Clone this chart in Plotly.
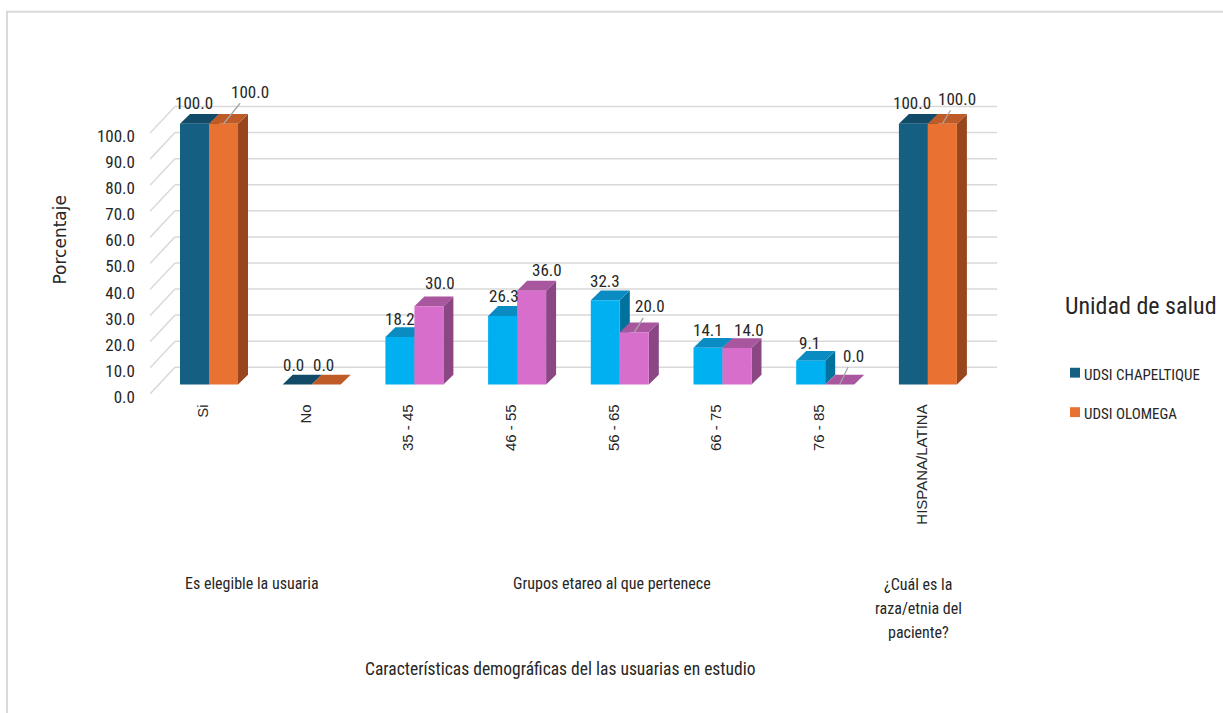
import plotly.graph_objects as go

# ---- data -------------------------------------------------------------
categories = ["Si", "No", "35 - 45", "46 - 55", "56 - 65", "66 - 75", "76 - 85", "HISPANA/LATINA"]
category_group = [0, 0, 1, 1, 1, 1, 1, 2]
group_names = ["Es elegible la usuaria", "Grupos etareo al que pertenece",
               "¿Cuál es la<br>raza/etnia del<br>paciente?"]
series_names = ["UDSI CHAPELTIQUE", "UDSI OLOMEGA"]
chapeltique = [100.0, 0.0, 18.2, 26.3, 32.3, 14.1, 9.1, 100.0]
olomega = [100.0, 0.0, 30.0, 36.0, 20.0, 14.0, 0.0, 100.0]
y_ticks = [0, 10, 20, 30, 40, 50, 60, 70, 80, 90, 100]

# ---- styling ----------------------------------------------------------
W, H = 1223, 713
NARROW = "Liberation Sans Narrow, Arial Narrow, Roboto Condensed, sans-serif"
WIDE = "DejaVu Sans, Verdana, sans-serif"
ARIAL = "Liberation Sans, Arial, sans-serif"
TXT = "#262626"
GRID = "#D9D9D9"

# colours per group: (front, top, side) for each series
palette = {
    0: [("#156082", "#114B67", "#0E3F57"), ("#E97132", "#BF5B27", "#97461D")],
    1: [("#00B0F0", "#0A8CC2", "#00729D"), ("#D86ECC", "#A8569E", "#8A4783")],
}
palette[2] = palette[0]

# pseudo-3D projection (pixels -> data units)
X0_PX, Y0_PX = 199.0, 399.5      # pixel position of (0, 0) on the front plane
SX, SY = 102.7, 2.645            # pixels per x unit / per y unit
BAR_W = 29 / SX                  # bar width
BX, BY = 10 / SX, 9.5 / SY       # offset of the bar front plane
DX, DY = 10 / SX, 10 / SY        # bar depth
WX, WY = 25 / SX, 27 / SY        # back-wall offset
WALL_END = (997 - X0_PX) / SX

L, R, T, B = 150, 1010, 60, 402  # plot area in pixels
x_range = [(L - X0_PX) / SX, (R - X0_PX) / SX]
y_range = [(Y0_PX - B) / SY, (Y0_PX - T) / SY]

# value-label offsets in pixels (dx, dy) and leader-line flags
label_off = [
    [(-1, 21), (-4, 20), (0, 18), (1, 20), (0, 19), (0, 18), (-1, 18), (-1, 21)],
    [(26, 32), (-3, 20), (11, 23), (15, 21), (16, 26), (12, 18), (14, 29), (15, 25)],
]
label_leader = [
    [False] * 8,
    [True, False, False, False, True, False, True, True],
]


def px_x(p):
    return p / W


def px_y(p):
    return 1 - p / H


fig = go.Figure()
shapes = []
annotations = []

# back wall gridlines and left-wall diagonals
x_front_left = (L - X0_PX) / SX
for v in y_ticks:
    shapes.append(dict(type="line", xref="x", yref="y", layer="below",
                       x0=x_front_left, y0=v, x1=x_front_left + WX, y1=v + WY,
                       line=dict(color=GRID, width=1.5)))
    shapes.append(dict(type="line", xref="x", yref="y", layer="below",
                       x0=x_front_left + WX, y0=v + WY, x1=WALL_END, y1=v + WY,
                       line=dict(color=GRID, width=1.5)))

series_values = [chapeltique, olomega]
for s, values in enumerate(series_values):
    fronts = [palette[g][s][0] for g in category_group]
    xs = [i + BX for i in range(len(categories))]
    offset = -BAR_W if s == 0 else 0.0
    fig.add_trace(go.Bar(
        x=xs, y=values, base=BY, width=BAR_W, offset=offset,
        marker=dict(color=fronts, line=dict(width=0)),
        name=series_names[s], showlegend=False,
        customdata=categories,
        hovertemplate="%{customdata}<br>" + series_names[s] + ": %{y:.1f}<extra></extra>",
    ))
    # top and side faces of each bar
    for i, v in enumerate(values):
        g = category_group[i]
        _, top_c, side_c = palette[g][s]
        x0 = xs[i] + offset
        x1 = x0 + BAR_W
        t = BY + v
        shapes.append(dict(
            type="path", xref="x", yref="y", layer="below",
            path=f"M {x1},{BY} L {x1},{t} L {x1 + DX},{t + DY} L {x1 + DX},{BY + DY} Z",
            fillcolor=side_c, line=dict(width=0)))
        shapes.append(dict(
            type="path", xref="x", yref="y", layer="below",
            path=f"M {x0},{t} L {x1},{t} L {x1 + DX},{t + DY} L {x0 + DX},{t + DY} Z",
            fillcolor=top_c, line=dict(width=0)))
        # value label
        cx = (x0 + x1) / 2
        dxp, dyp = label_off[s][i]
        common = dict(x=cx, y=t, xref="x", yref="y", text=f"{v:.1f}",
                      font=dict(family=NARROW, size=17, color=TXT))
        if label_leader[s][i]:
            annotations.append(dict(**common, showarrow=True, ax=dxp, ay=-dyp,
                                    arrowhead=0, arrowwidth=1.3, arrowcolor="#A6A6A6",
                                    standoff=0, startstandoff=0))
        else:
            annotations.append(dict(**common, showarrow=False, xshift=dxp, yshift=dyp))

# group labels below the category axis
group_centers = [(252, 592), (612, 592), (918, 593)]
for name, (gx, gy) in zip(group_names, group_centers):
    lines = name.split("<br>")
    for k, line in enumerate(lines):
        annotations.append(dict(x=px_x(gx), y=px_y(gy + 24 * k), xref="paper", yref="paper",
                                text=line, showarrow=False, xanchor="center", yanchor="middle",
                                font=dict(family=NARROW, size=16, color=TXT)))

# axis titles
annotations.append(dict(x=px_x(560), y=px_y(679), xref="paper", yref="paper",
                        text="Características demográficas del las usuarias en estudio",
                        showarrow=False, xanchor="center", yanchor="middle",
                        font=dict(family=NARROW, size=17.5, color=TXT)))
annotations.append(dict(x=px_x(60), y=px_y(243), xref="paper", yref="paper",
                        text="Porcentaje", textangle=-90,
                        showarrow=False, xanchor="center", yanchor="middle",
                        font=dict(family=WIDE, size=17, color=TXT)))

# legend
annotations.append(dict(x=px_x(1219), y=px_y(310), xref="paper", yref="paper",
                        text="Unidad de salud", showarrow=False,
                        xanchor="right", yanchor="middle",
                        font=dict(family=NARROW, size=24, color=TXT)))
for s, name in enumerate(series_names):
    cy = 378 + 40 * s
    shapes.append(dict(type="rect", xref="paper", yref="paper",
                       x0=px_x(1070), x1=px_x(1080), y0=px_y(cy + 5), y1=px_y(cy - 5),
                       fillcolor=palette[0][s][0], line=dict(width=0)))
    annotations.append(dict(x=px_x(1082), y=px_y(cy + 2), xref="paper", yref="paper",
                            text=name, showarrow=False, xanchor="left", yanchor="middle",
                            font=dict(family=NARROW, size=15, color=TXT)))

# outer chart border
shapes.append(dict(type="rect", xref="paper", yref="paper",
                   x0=px_x(7), x1=px_x(1240), y0=px_y(730), y1=px_y(12),
                   line=dict(color="#D9D9D9", width=2), fillcolor="rgba(0,0,0,0)"))

fig.update_layout(
    width=W, height=H, margin=dict(l=0, r=0, t=0, b=0),
    paper_bgcolor="white", plot_bgcolor="white",
    barmode="overlay", showlegend=False,
    shapes=shapes, annotations=annotations,
    xaxis=dict(domain=[px_x(L), px_x(R)], range=x_range,
               tickmode="array", tickvals=[i + 4 / SX for i in range(len(categories))],
               ticktext=categories, tickangle=-90, showgrid=False, zeroline=False,
               showline=False, ticks="", ticklabelstandoff=4,
               tickfont=dict(family=ARIAL, size=15, color=TXT)),
    yaxis=dict(domain=[px_y(B), px_y(T)], range=y_range,
               tickmode="array", tickvals=y_ticks, ticktext=[f"{v:.1f}" for v in y_ticks],
               showgrid=False, zeroline=False, showline=False, ticks="",
               ticklabelstandoff=14, ticklabelshift=3,
               tickfont=dict(family=NARROW, size=17, color=TXT)),
)

fig.write_html("out.html")
